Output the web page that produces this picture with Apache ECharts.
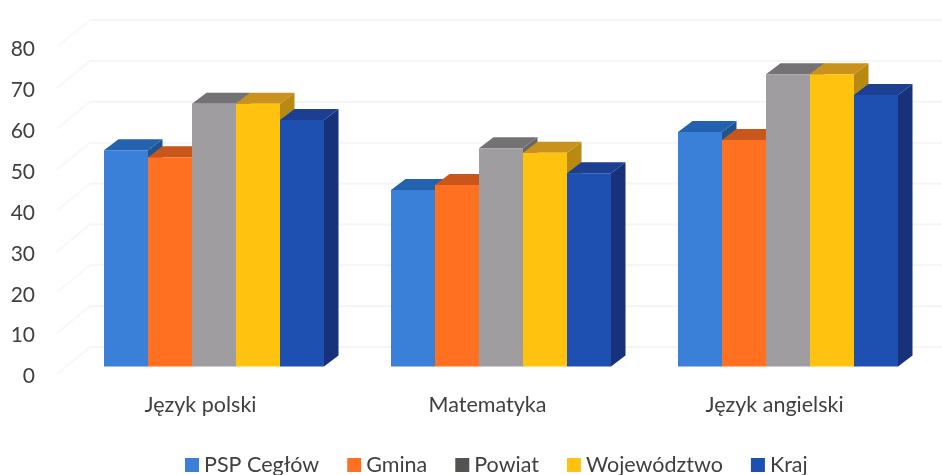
<!DOCTYPE html>
<html>
<head>
<meta charset="utf-8">
<style>html,body{margin:0;padding:0;background:#fff}#c{width:942px;height:475px}</style>
<script src="https://cdn.jsdelivr.net/npm/echarts@6/dist/echarts.min.js"></script>
</head>
<body>
<div id="c"></div>
<script>
const categories = ['Język polski', 'Matematyka', 'Język angielski'];
const pspCeglow = [52.9, 43.2, 57.4];
const gmina = [51.2, 44.4, 55.4];
const powiat = [64.3, 53.4, 71.5];
const wojewodztwo = [64.3, 52.3, 71.5];
const kraj = [60.3, 47.3, 66.4];
const ticks = [0, 10, 20, 30, 40, 50, 60, 70, 80];

const seriesDefs = [
  {name: 'PSP Cegłów', values: pspCeglow, front: '#3A7FD8', top: '#2362AE', side: '#1D558F', legend: '#3A7FD8'},
  {name: 'Gmina', values: gmina, front: '#FF7020', top: '#C9561B', side: '#B04A15', legend: '#FF7020'},
  {name: 'Powiat', values: powiat, front: '#A09DA1', top: '#757275', side: '#686568', legend: '#55534F'},
  {name: 'Województwo', values: wojewodztwo, front: '#FFC30F', top: '#C9921C', side: '#B98A12', legend: '#FFC30F'},
  {name: 'Kraj', values: kraj, front: '#1D50B0', top: '#1C3F92', side: '#17327A', legend: '#1D50B0'}
];

// Oblique projection offsets, in pixels
const BAR_SHIFT_X = 13.5, BAR_SHIFT_Y = -7.5;
const DEPTH_X = 14.5, DEPTH_Y = -11;
const WALL_X = 33, WALL_Y = -27;
const BAR_SHARE = 220 / 287 / 5;

function poly(points, color) {
  return {type: 'polygon', shape: {points}, style: {fill: color}};
}

function barRenderer(def, index) {
  return function (params, api) {
    const base = api.coord([api.value(0), 0]);
    const head = api.coord([api.value(0), api.value(1)]);
    const w = api.size([1, 0])[0] * BAR_SHARE;
    const x0 = base[0] + BAR_SHIFT_X + (index - 2.5) * w;
    const x1 = x0 + w;
    const yb = base[1] + BAR_SHIFT_Y;
    const yt = head[1] + BAR_SHIFT_Y;
    return {
      type: 'group',
      children: [
        poly([[x1, yb], [x1 + DEPTH_X, yb + DEPTH_Y], [x1 + DEPTH_X, yt + DEPTH_Y], [x1, yt]], def.side),
        poly([[x0, yt], [x1, yt], [x1 + DEPTH_X, yt + DEPTH_Y], [x0 + DEPTH_X, yt + DEPTH_Y]], def.top),
        poly([[x0, yb], [x1, yb], [x1, yt], [x0, yt]], def.front)
      ]
    };
  };
}

function wallRenderer(params, api) {
  const p = api.coord([0, api.value(0)]);
  const rect = params.coordSys;
  const left = rect.x;
  const line = (x1, y1, x2, y2, stroke) => ({
    type: 'line',
    shape: {x1, y1, x2, y2},
    style: {stroke, lineWidth: 2}
  });
  return {
    type: 'group',
    children: [
      line(left, p[1], left + WALL_X, p[1] + WALL_Y, '#F8F8F8'),
      line(left + WALL_X, p[1] + WALL_Y, 942, p[1] + WALL_Y, '#F5F5F5')
    ]
  };
}

const chart = echarts.init(document.getElementById('c'), null, {renderer: 'canvas'});
chart.setOption({
  animation: false,
  backgroundColor: '#fff',
  textStyle: {fontFamily: 'Lato'},
  grid: {left: 57, top: 47, width: 861, height: 327},
  legend: {
    left: 185,
    top: 454,
    padding: 0,
    itemWidth: 14,
    itemHeight: 14,
    itemGap: 28,
    icon: 'rect',
    textStyle: {fontSize: 21.5, color: '#404040', fontFamily: 'Lato'},
    data: seriesDefs.map(d => ({name: d.name, itemStyle: {color: d.legend}}))
  },
  xAxis: {
    type: 'category',
    data: categories,
    axisLine: {show: false},
    axisTick: {show: false},
    axisLabel: {margin: 20, fontSize: 21.5, color: '#404040', fontFamily: 'Lato'}
  },
  yAxis: {
    type: 'value',
    min: 0,
    max: 80,
    interval: 10,
    axisLine: {show: false},
    axisTick: {show: false},
    splitLine: {show: false},
    axisLabel: {margin: 22, fontSize: 21, color: '#404040', fontFamily: 'Lato', verticalAlign: 'top', lineHeight: 5}
  },
  series: [
    {
      type: 'custom',
      name: 'walls',
      coordinateSystem: 'cartesian2d',
      clip: false,
      silent: true,
      data: ticks.map(v => [v]),
      encode: {y: 0},
      renderItem: wallRenderer
    }
  ].concat(seriesDefs.map((def, i) => ({
    type: 'custom',
    name: def.name,
    coordinateSystem: 'cartesian2d',
    clip: false,
    itemStyle: {color: def.legend},
    data: categories.map((c, k) => [k, def.values[k]]),
    encode: {x: 0, y: 1},
    renderItem: barRenderer(def, i)
  })))
});
</script>
</body>
</html>
